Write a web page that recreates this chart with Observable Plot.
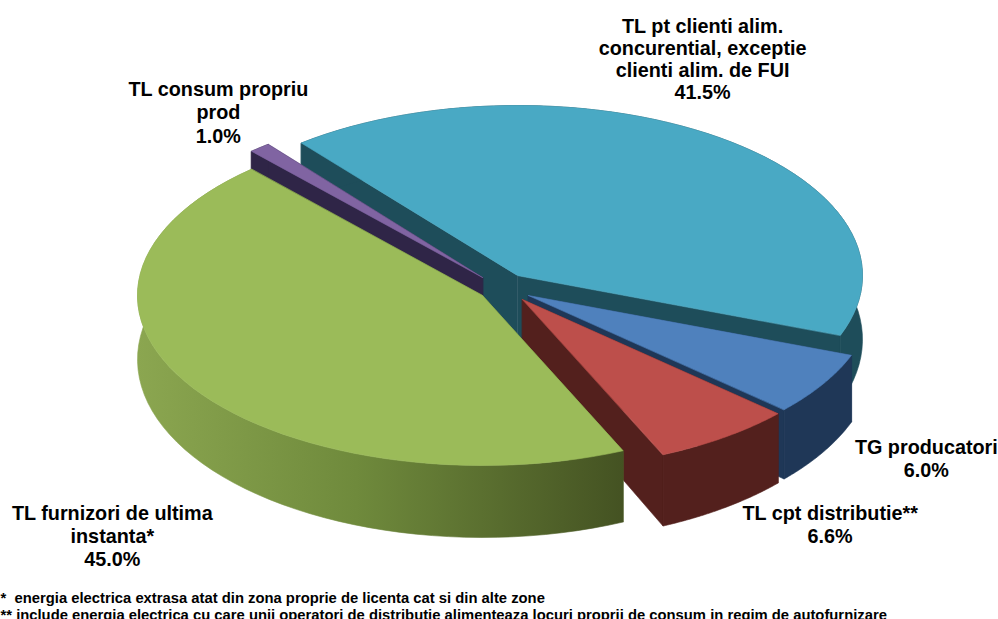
<!DOCTYPE html>
<html><head><meta charset="utf-8">
<style>html,body{margin:0;padding:0;background:#fff}svg{display:block}</style>
<script src="https://cdn.jsdelivr.net/npm/d3@7"></script>
<script src="https://cdn.jsdelivr.net/npm/@observablehq/plot@0.6"></script>
</head><body><div id="chart"></div>
<script>
// Data
const names = ["TL pt clienti alim.\nconcurential, exceptie\nclienti alim. de FUI","TG producatori","TL cpt distributie**","TL consum propriu\nprod","TL furnizori de ultima\ninstanta*"];
const shares = [41.5, 6.0, 6.6, 1.0, 45.0];
const footnotes = ["*  energia electrica extrasa atat din zona proprie de licenta cat si din alte zone",
  "** include energia electrica cu care unii operatori de distributie alimenteaza locuri proprii de consum in regim de autofurnizare"];

// Layout (pie projection)
const order = [0,1,2,4,3]; // clockwise order of slices
const drawOrder = [0,1,2,3,4];
const startAngle = -38.8, rx = 345, ry = 170;
const apexX = [517,528,522,482,482], apexY = [275,295,299,277,295];
const topFill = ["#49a9c4","#4f81bd","#bd4f4b","#8064a2","#9bbb59"];
const sideFill = ["#1e4d5a","#1f3757","#53201d","#2f2547","url(#greenWall)"];
const cutFill = ["#1e4d5a","#1f3757","#53201d","#2f2547","#5f7733"];
const labelPull = [[0.915,1.57],[1.351,1.84],[1.52,1.634],[1.185,1.275],[1.28,2.59]];
const botScaleY = 1.047, botDrop = 64;

// geometry from values
const total = 100;
let acc = startAngle;
const slices = [];
for (const i of order) {
  const a0 = acc, a1 = acc + shares[i]/total*360; acc = a1;
  slices[i] = {a0, a1, i};
}
const rad = d => d*Math.PI/180;
const topPt = (s,a) => [apexX[s.i]+rx*Math.sin(rad(a)), apexY[s.i]-ry*Math.cos(rad(a))];
const botPt = (s,a) => [apexX[s.i]+rx*Math.sin(rad(a)), apexY[s.i]+botDrop-botScaleY*ry*Math.cos(rad(a))];
const apexTop = s => [apexX[s.i],apexY[s.i]];
const apexBot = s => [apexX[s.i],apexY[s.i]+botDrop];
const arc = (s,f) => d3.range(0,61).map(k => f(s, s.a0+(s.a1-s.a0)*k/60));
const poly = (pts,fill) => Plot.line(pts,{x:d=>d[0],y:d=>d[1],fill,stroke:fill,strokeWidth:0.6,curve:"linear-closed"});

const marks = [() => {
  const defs = d3.create("svg:defs");
  const g = defs.append("linearGradient").attr("id","greenWall").attr("gradientUnits","userSpaceOnUse")
    .attr("x1",137).attr("x2",624).attr("y1",0).attr("y2",0);
  [[0,"#8ba650"],[0.45,"#6f8a3c"],[1,"#445222"]].forEach(([o,c])=>g.append("stop").attr("offset",o).attr("stop-color",c));
  return defs.node();
}];
for (const i of drawOrder) {
  const s = slices[i];
  const A=apexTop(s), B=apexBot(s);
  const S0=topPt(s,s.a0), S1=botPt(s,s.a0), E0=topPt(s,s.a1), E1=botPt(s,s.a1);
  marks.push(poly([A,S0,S1,B],cutFill[i]));
  marks.push(poly([A,E0,E1,B],cutFill[i]));
  marks.push(poly([...arc(s,topPt),...arc(s,botPt).reverse()],sideFill[i]));
  marks.push(poly([A,...arc(s,topPt)],topFill[i]));
}
const labels = names.map((n,i)=>{
  const s = slices[i], m=(s.a0+s.a1)/2;
  return {text:`${n}\n${shares[i].toFixed(1)}%`,
    x:apexX[i]+labelPull[i][0]*rx*Math.sin(rad(m)), y:apexY[i]-labelPull[i][1]*ry*Math.cos(rad(m))};
});
const labelStyle = {x:"x",y:"y",text:"text",fontFamily:"Liberation Sans",fontWeight:"bold",fontSize:19.8,fill:"#000"};
marks.push(Plot.text(labels.slice(0,1),{...labelStyle,lineHeight:1.11}));
marks.push(Plot.text(labels.slice(1),{...labelStyle,lineHeight:1.17}));
marks.push(Plot.text(footnotes,{text:d=>d,x:()=>0,y:(d,i)=>598+i*16.5,textAnchor:"start",fontFamily:"Liberation Sans",fontWeight:"bold",fontSize:14.8,fill:"#000"}));
const chart = Plot.plot({width:998,height:619,margin:0,
  x:{domain:[0,998],range:[0,998],axis:null},y:{domain:[0,619],range:[0,619],axis:null},marks});
document.getElementById("chart").append(chart);
</script></body></html>
